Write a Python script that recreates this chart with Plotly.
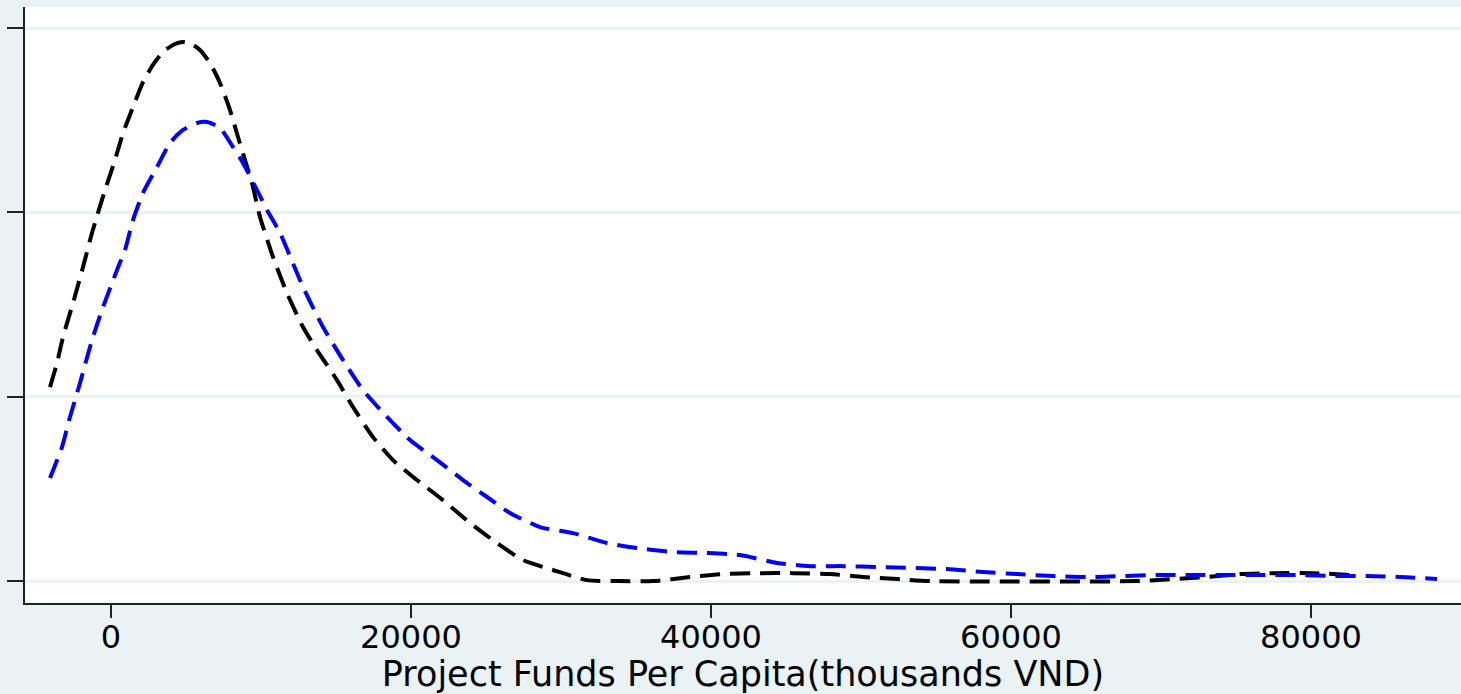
import plotly.graph_objects as go

# Kernel density estimates (y in arbitrary density units)
black_x = [-4067, -3600, -3200, -2533, -1867, -1267, -400, 267, 800, 1467, 2133, 2800, 3467, 4133,
           4800, 5467, 5933, 6600, 7267, 7933, 8467, 8933, 9400, 9933, 10467, 10800, 11733, 12800,
           13733, 15067, 16133, 17467, 18800, 20400, 22133, 23933, 25733, 27467, 29467, 31733,
           33933, 36133, 38600, 40800, 43267, 45467, 47933, 50133, 52400, 54600, 68600, 70800,
           73067, 75267, 77467, 80133, 82600]
black_y = [1.052, 1.183, 1.324, 1.508, 1.703, 1.888, 2.121, 2.284, 2.430, 2.571, 2.707, 2.800, 2.870,
           2.908, 2.924, 2.908, 2.881, 2.810, 2.702, 2.555, 2.409, 2.284, 2.159, 1.975, 1.839, 1.758,
           1.562, 1.378, 1.253, 1.090, 0.944, 0.781, 0.656, 0.548, 0.439, 0.315, 0.206, 0.114, 0.060,
           0.005, 0.0, 0.0, 0.022, 0.038, 0.043, 0.043, 0.038, 0.022, 0.011, 0.0, 0.0, 0.011, 0.022,
           0.038, 0.043, 0.043, 0.033]

blue_x = [-4067, -3267, -2733, -2067, -1267, -533, 400, 933, 1467, 2133, 3067, 3933, 4800, 5733,
          6400, 7267, 8133, 8800, 9733, 10400, 11267, 12800, 14133, 15467, 16800, 18400, 19933,
          21733, 23467, 25067, 26600, 28600, 30800, 33067, 35067, 37467, 39733, 41933, 44400,
          46600, 48800, 51267, 53467, 55733, 58133, 60400, 62800, 65067, 67467, 69733, 71933,
          74400, 76600, 79267, 81467, 83733, 85933, 88400]
blue_y = [0.559, 0.727, 0.890, 1.074, 1.307, 1.486, 1.687, 1.796, 1.958, 2.105, 2.246, 2.376, 2.447,
          2.485, 2.490, 2.458, 2.354, 2.268, 2.121, 2.013, 1.888, 1.595, 1.378, 1.199, 1.036, 0.890,
          0.765, 0.656, 0.548, 0.456, 0.369, 0.293, 0.260, 0.206, 0.179, 0.157, 0.152, 0.141, 0.098,
          0.081, 0.081, 0.076, 0.071, 0.065, 0.049, 0.038, 0.027, 0.022, 0.027, 0.033, 0.033, 0.033,
          0.033, 0.033, 0.027, 0.027, 0.022, 0.011]

x_ticks = [0, 20000, 40000, 60000, 80000]
x_tick_labels = ["0", "20000", "40000", "60000", "80000"]
y_ticks = [0, 1, 2, 3]
x_title = "Project Funds Per Capita(thousands VND)"

BG = "#EAF2F3"
FONT = "DejaVu Sans"

fig = go.Figure()
fig.add_trace(go.Scatter(x=black_x, y=black_y, mode="lines",
                         line=dict(color="#000000", width=4, dash="20px,10px", shape="spline", smoothing=0.6),
                         showlegend=False, hoverinfo="skip"))
fig.add_trace(go.Scatter(x=blue_x, y=blue_y, mode="lines",
                         line=dict(color="#0000FF", width=4, dash="20px,10px", shape="spline", smoothing=0.6),
                         showlegend=False, hoverinfo="skip"))

fig.update_layout(
    width=1461, height=694,
    margin=dict(l=25, r=0, t=7, b=91, autoexpand=False),
    paper_bgcolor=BG, plot_bgcolor="#FFFFFF",
    font=dict(family=FONT, size=34, color="#000000"),
    xaxis=dict(range=[-5733, 90000], tickvals=x_ticks, ticktext=x_tick_labels,
               ticks="outside", ticklen=13, tickwidth=2, tickcolor="#222222",
               showline=True, linecolor="#222222", linewidth=2,
               showgrid=False, zeroline=False, automargin=False,
               ticklabelstandoff=-8,
               tickfont=dict(family=FONT, size=32),
               title=dict(text=x_title, font=dict(family=FONT, size=35), standoff=6)),
    yaxis=dict(range=[-0.119, 3.114], tickvals=y_ticks, showticklabels=False,
               ticks="outside", ticklen=16, tickwidth=2, tickcolor="#222222",
               showline=True, linecolor="#222222", linewidth=2, automargin=False,
               showgrid=True, gridcolor=BG, gridwidth=3, zeroline=False),
)

fig.write_html("out.html", config={"displayModeBar": False},
               post_script="document.body.style.margin='0px';document.body.style.overflow='hidden';")
